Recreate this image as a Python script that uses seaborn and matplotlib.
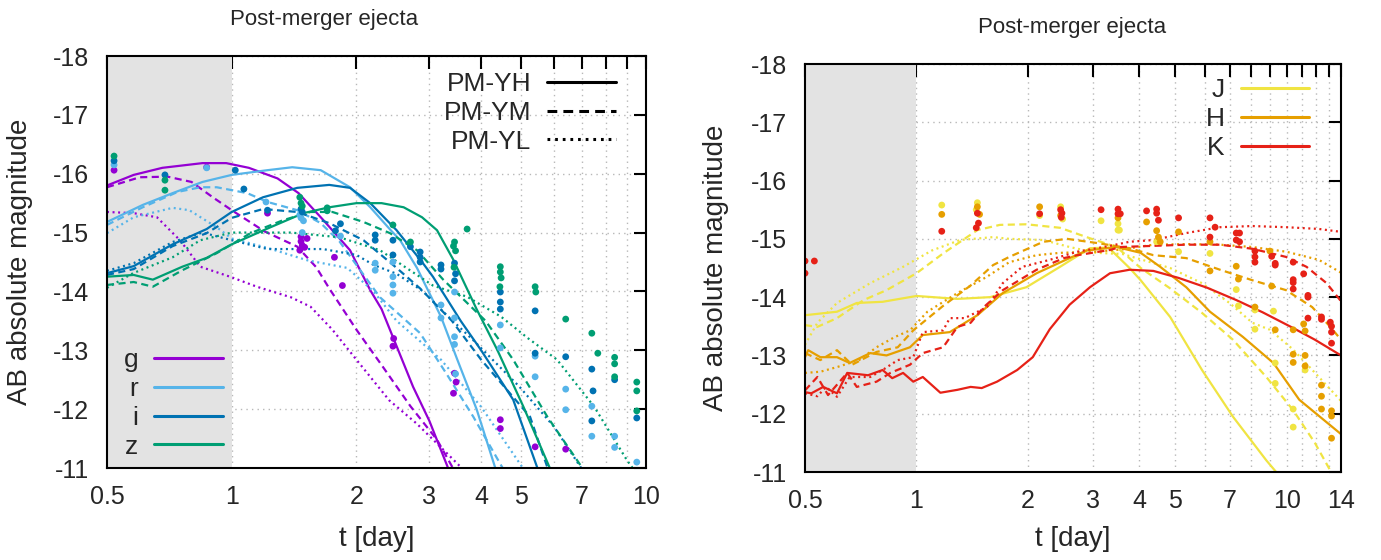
import numpy as np
import pandas as pd
import matplotlib
matplotlib.use("Agg")
import matplotlib.pyplot as plt
from matplotlib.lines import Line2D
from matplotlib.ticker import FixedLocator, FixedFormatter, NullLocator
import seaborn as sns

# ---------------- Left panel: optical bands (g, r, i, z) ----------------
g_YH_t = [0.5, 0.58, 0.68, 0.85, 0.97, 1.1, 1.29, 1.45, 1.66, 1.93, 2.16, 2.3, 2.74, 3.0, 3.35]
g_YH_m = [-15.8, -15.98, -16.1, -16.18, -16.18, -16.1, -15.92, -15.67, -15.22, -14.7, -14.02, -13.7, -12.38, -11.8, -10.95]
g_YM_t = [0.5, 0.6, 0.7, 0.8, 0.9, 1.0, 1.2, 1.44, 1.6, 1.72, 2.0, 2.3, 2.7, 3.13, 3.45]
g_YM_m = [-15.77, -15.94, -15.95, -15.86, -15.6, -15.38, -15.02, -14.76, -14.41, -14.05, -13.35, -12.75, -12.05, -11.48, -10.95]
g_YL_t = [0.5, 0.58, 0.66, 0.75, 0.84, 1.0, 1.15, 1.39, 1.55, 1.75, 2.0, 2.4, 2.8, 3.2, 3.65]
g_YL_m = [-15.35, -15.33, -15.26, -14.87, -14.42, -14.24, -14.08, -13.9, -13.74, -13.35, -12.84, -12.15, -11.75, -11.35, -10.95]

r_YH_t = [0.5, 0.61, 0.72, 0.85, 1.0, 1.22, 1.4, 1.64, 1.93, 2.16, 2.42, 2.55, 2.8, 3.2, 3.5, 3.9, 4.35]
r_YH_m = [-15.18, -15.47, -15.67, -15.86, -15.98, -16.06, -16.11, -16.06, -15.77, -15.43, -15.04, -14.87, -14.4, -13.57, -12.85, -12.0, -10.95]
r_YM_t = [0.5, 0.61, 0.74, 0.84, 0.92, 1.09, 1.22, 1.44, 1.64, 1.82, 2.0, 2.28, 2.85, 3.3, 3.83, 4.55]
r_YM_m = [-15.13, -15.43, -15.69, -15.77, -15.77, -15.67, -15.52, -15.38, -15.16, -14.85, -14.45, -13.9, -13.29, -12.6, -11.87, -10.95]
r_YL_t = [0.5, 0.58, 0.72, 0.79, 0.92, 1.0, 1.22, 1.52, 1.9, 2.2, 2.5, 2.8, 3.2, 4.0, 5.1]
r_YL_m = [-14.99, -15.26, -15.42, -15.38, -15.09, -14.9, -14.74, -14.53, -14.4, -14.0, -13.5, -13.2, -12.84, -12.04, -10.95]

i_YH_t = [0.5, 0.58, 0.72, 0.87, 1.0, 1.19, 1.44, 1.72, 1.93, 2.16, 2.5, 2.88, 3.06, 3.57, 4.0, 4.78, 5.5]
i_YH_m = [-14.31, -14.43, -14.8, -15.06, -15.35, -15.6, -15.76, -15.81, -15.76, -15.5, -15.04, -14.5, -14.25, -13.5, -13.0, -12.16, -10.95]
i_YM_t = [0.5, 0.58, 0.72, 0.87, 1.0, 1.19, 1.44, 1.72, 2.08, 2.5, 2.85, 3.4, 4.0, 5.25, 5.82]
i_YM_m = [-14.28, -14.38, -14.77, -14.99, -15.25, -15.4, -15.35, -15.16, -14.87, -14.4, -14.05, -13.5, -12.84, -11.87, -10.95]
i_YL_t = [0.5, 0.58, 0.72, 0.85, 1.0, 1.22, 1.66, 2.0, 2.2, 2.5, 2.9, 3.3, 3.83, 4.95, 6.0, 7.05]
i_YL_m = [-14.35, -14.48, -14.84, -15.0, -14.87, -14.72, -14.72, -14.62, -14.45, -14.3, -14.0, -13.6, -13.17, -12.38, -11.7, -10.95]

z_YH_t = [0.5, 0.58, 0.645, 0.76, 0.87, 1.0, 1.24, 1.49, 1.72, 2.0, 2.3, 2.6, 2.88, 3.13, 3.42, 3.9, 4.38, 5.06, 5.9]
z_YH_m = [-14.25, -14.28, -14.2, -14.42, -14.57, -14.8, -15.09, -15.33, -15.43, -15.5, -15.5, -15.43, -15.26, -15.04, -14.55, -13.7, -13.0, -12.04, -10.95]
z_YM_t = [0.5, 0.58, 0.645, 0.76, 0.92, 1.11, 1.33, 1.55, 1.75, 2.08, 2.41, 2.8, 3.24, 4.1, 4.78, 5.78, 7.1]
z_YM_m = [-14.11, -14.16, -14.08, -14.36, -14.65, -14.99, -15.21, -15.35, -15.35, -15.18, -14.99, -14.7, -14.2, -13.5, -12.84, -11.87, -10.95]
z_YL_t = [0.5, 0.578, 0.72, 0.84, 1.0, 1.39, 1.82, 2.28, 2.64, 3.06, 3.7, 4.47, 5.2, 6.1, 7.5, 9.0, 9.4]
z_YL_m = [-14.06, -14.31, -14.58, -14.87, -15.0, -15.0, -14.92, -14.7, -14.4, -14.1, -13.91, -13.57, -13.2, -12.84, -12.04, -11.13, -10.95]

# observed points (left panel)
obs_g_t = [0.52, 0.87, 1.22, 1.47, 1.47, 1.48, 1.5, 1.46, 1.52, 1.77, 1.85, 2.46, 2.45, 3.45, 3.48, 3.43, 4.45, 4.45, 5.4, 6.4]
obs_g_m = [-16.06, -16.11, -15.33, -14.93, -14.85, -14.78, -14.75, -14.7, -14.9, -14.58, -14.1, -13.2, -13.07, -12.61, -12.46, -12.27, -11.82, -11.67, -11.36, -11.32]
obs_r_t = [0.52, 0.87, 1.21, 1.46, 1.47, 1.49, 1.48, 1.83, 2.22, 2.22, 2.45, 2.45, 2.45, 2.45, 3.2, 3.2, 3.45, 3.45, 3.45, 3.45, 3.47, 4.45, 4.45, 5.4, 5.4, 6.4, 6.4, 7.4, 7.4, 8.4, 8.4, 9.5]
obs_r_m = [-16.15, -16.1, -15.52, -15.3, -15.25, -15.2, -15.0, -14.94, -14.48, -14.36, -14.5, -14.25, -14.11, -13.97, -13.77, -13.55, -13.99, -13.55, -13.23, -13.1, -12.6, -13.43, -13.04, -12.9, -12.55, -12.34, -11.99, -12.05, -11.54, -11.54, -11.35, -11.1]
obs_i_t = [0.52, 0.69, 1.02, 1.07, 1.22, 1.47, 1.48, 1.83, 1.78, 2.22, 2.22, 2.45, 2.45, 2.7, 2.85, 2.85, 2.85, 3.2, 3.2, 3.45, 3.47, 3.45, 4.45, 4.45, 4.45, 5.4, 5.4, 6.4, 7.4, 7.45, 7.4, 8.4, 9.5]
obs_i_m = [-16.22, -15.98, -16.06, -15.74, -15.38, -15.4, -15.35, -15.15, -15.03, -14.96, -14.87, -14.87, -14.62, -14.76, -14.67, -14.58, -14.5, -14.45, -14.38, -14.48, -14.3, -14.18, -13.99, -13.82, -13.7, -13.67, -12.95, -12.89, -12.68, -12.31, -11.8, -12.5, -11.85]
obs_z_t = [0.52, 0.69, 0.69, 1.46, 1.47, 1.48, 1.7, 1.7, 2.45, 2.7, 3.45, 3.43, 3.47, 3.44, 3.7, 4.45, 4.45, 4.47, 4.44, 5.4, 5.42, 6.4, 7.4, 7.65, 8.4, 8.4, 8.4, 9.5, 9.5, 9.5]
obs_z_m = [-16.3, -15.89, -15.72, -15.6, -15.5, -15.45, -15.42, -15.37, -15.13, -14.84, -14.84, -14.77, -14.69, -14.41, -15.06, -14.42, -14.33, -14.23, -14.08, -14.08, -13.99, -13.53, -13.29, -12.95, -12.88, -12.77, -12.55, -12.46, -12.31, -11.97]

# ---------------- Right panel: near-infrared bands (J, H, K) ----------------
J_YH_t = [0.5, 0.61, 0.69, 0.81, 1.0, 1.29, 1.58, 1.98, 2.44, 2.94, 3.3, 3.76, 4.03, 4.84, 5.9, 7.15, 8.8, 9.5]
J_YH_m = [-13.69, -13.75, -13.9, -13.92, -14.02, -13.97, -14.0, -14.17, -14.52, -14.84, -14.85, -14.5, -14.29, -13.66, -12.75, -11.95, -11.2, -10.95]
J_YM_t = [0.5, 0.54, 0.61, 0.72, 0.83, 1.0, 1.18, 1.46, 1.68, 1.98, 2.44, 2.94, 3.47, 4.03, 4.84, 5.9, 7.15, 8.8, 10.4, 11.9, 13.3]
J_YM_m = [-13.52, -13.49, -13.64, -13.95, -14.12, -14.41, -14.75, -15.15, -15.24, -15.25, -15.19, -15.01, -14.86, -14.5, -14.15, -13.73, -13.27, -12.63, -12.06, -11.5, -10.95]
J_YL_t = [0.5, 0.54, 0.61, 0.75, 0.92, 1.1, 1.31, 1.61, 1.78, 2.2, 2.59, 3.06, 3.6, 4.84, 5.9, 7.0, 8.07, 9.0, 10.4, 12.2, 14.0]
J_YL_m = [-13.18, -13.56, -13.9, -14.24, -14.52, -14.8, -14.98, -15.03, -15.0, -14.98, -14.86, -14.76, -14.74, -14.5, -14.24, -13.9, -13.56, -13.44, -13.1, -12.63, -12.22]

H_YH_t = [0.5, 0.51, 0.55, 0.61, 0.66, 0.75, 0.83, 0.96, 1.04, 1.23, 1.46, 1.71, 2.11, 2.59, 2.88, 3.47, 4.03, 4.55, 5.35, 6.2, 7.6, 9.2, 10.8, 14.0]
H_YH_m = [-12.97, -13.09, -12.97, -12.97, -12.87, -13.04, -13.0, -13.14, -13.35, -13.4, -13.69, -14.07, -14.41, -14.67, -14.8, -14.86, -14.76, -14.52, -14.17, -13.75, -13.32, -12.87, -12.24, -11.65]
H_YM_t = [0.5, 0.55, 0.61, 0.67, 0.78, 0.89, 0.98, 1.18, 1.4, 1.61, 1.78, 2.2, 2.55, 3.06, 3.76, 4.36, 5.35, 6.6, 8.07, 9.95, 11.7, 13.1, 14.0]
H_YM_m = [-13.04, -12.92, -13.09, -12.84, -13.06, -13.14, -13.43, -13.85, -14.2, -14.55, -14.69, -14.95, -15.0, -14.93, -14.84, -14.72, -14.67, -14.47, -14.29, -14.12, -13.83, -13.49, -13.27]
H_YL_t = [0.5, 0.55, 0.61, 0.7, 0.78, 0.87, 0.96, 1.07, 1.29, 1.55, 1.78, 2.11, 2.44, 3.06, 3.6, 4.36, 5.35, 6.6, 8.07, 9.95, 12.2, 14.0]
H_YL_m = [-12.7, -12.72, -12.8, -12.92, -13.14, -13.31, -13.43, -13.75, -14.07, -14.35, -14.6, -14.72, -14.76, -14.78, -14.82, -14.9, -14.91, -14.9, -14.86, -14.78, -14.64, -14.42]

K_YH_t = [0.5, 0.52, 0.56, 0.61, 0.65, 0.74, 0.81, 0.86, 0.92, 0.98, 1.04, 1.16, 1.29, 1.4, 1.5, 1.65, 1.87, 2.06, 2.29, 2.59, 2.94, 3.33, 3.76, 4.36, 5.1, 6.1, 7.3, 8.6, 10.4, 11.9, 14.0]
K_YH_m = [-12.37, -12.35, -12.46, -12.35, -12.7, -12.66, -12.75, -12.61, -12.7, -12.55, -12.63, -12.36, -12.41, -12.46, -12.44, -12.55, -12.75, -12.97, -13.45, -13.87, -14.17, -14.41, -14.47, -14.45, -14.33, -14.16, -13.95, -13.74, -13.47, -13.27, -13.0]
K_YM_t = [0.5, 0.54, 0.577, 0.65, 0.69, 0.78, 0.85, 0.96, 1.04, 1.18, 1.29, 1.4, 1.52, 1.71, 2.11, 2.5, 2.72, 3.33, 3.55, 4.36, 5.35, 6.6, 8.07, 9.95, 11.3, 12.8, 14.0]
K_YM_m = [-12.4, -12.63, -12.32, -12.7, -12.46, -12.55, -12.7, -12.84, -13.04, -13.14, -13.49, -13.56, -13.83, -14.12, -14.47, -14.67, -14.72, -14.81, -14.86, -14.88, -14.9, -14.9, -14.83, -14.69, -14.52, -14.24, -13.93]
K_YL_t = [0.5, 0.54, 0.57, 0.61, 0.66, 0.75, 0.81, 0.89, 0.98, 1.04, 1.18, 1.23, 1.35, 1.55, 1.71, 1.93, 2.29, 2.72, 3.33, 3.76, 4.36, 5.35, 6.6, 8.07, 9.95, 12.2, 14.0]
K_YL_m = [-12.35, -12.3, -12.46, -12.29, -12.63, -12.63, -12.75, -12.92, -12.97, -13.4, -13.43, -13.64, -13.64, -13.83, -14.24, -14.52, -14.64, -14.78, -14.88, -14.95, -14.98, -15.1, -15.2, -15.22, -15.2, -15.17, -15.12]

obs_J_t = [1.17, 1.46, 1.45, 2.15, 2.45, 2.48, 3.15, 3.5, 3.5, 3.53, 4.45, 5.1, 6.2, 7.3, 7.4, 8.2, 8.2, 9.2, 9.3, 9.3, 10.4, 10.4, 11.2]
obs_J_m = [-15.58, -15.62, -15.5, -15.4, -15.55, -15.34, -15.31, -15.26, -15.15, -15.15, -14.95, -14.78, -14.75, -14.13, -13.85, -13.78, -13.45, -13.76, -12.87, -12.52, -12.08, -11.77, -12.75]
obs_H_t = [1.17, 1.46, 1.48, 2.15, 2.45, 3.5, 4.18, 4.45, 4.5, 4.55, 5.1, 6.2, 6.2, 7.3, 7.4, 8.2, 9.0, 9.1, 9.3, 10.4, 10.4, 10.4, 11.1, 11.2, 11.2, 11.2, 12.4, 12.4, 12.4, 13.2, 13.2, 13.2]
obs_H_m = [-15.42, -15.55, -15.42, -15.55, -15.4, -15.36, -15.29, -15.14, -15.03, -14.95, -15.12, -14.95, -14.45, -14.53, -14.31, -13.83, -14.79, -14.19, -13.44, -13.44, -13.02, -12.88, -13.54, -13.42, -13.0, -12.82, -12.49, -12.3, -12.08, -12.05, -11.96, -11.58]
obs_K_t = [0.5, 0.5, 0.53, 1.17, 1.46, 1.47, 1.45, 2.15, 2.45, 2.47, 2.46, 3.15, 3.5, 3.5, 3.55, 4.18, 4.45, 4.45, 4.5, 5.1, 6.2, 6.4, 6.2, 7.3, 7.45, 7.3, 7.45, 8.2, 8.2, 8.2, 9.1, 9.3, 9.3, 10.4, 10.4, 10.4, 10.4, 11.1, 11.4, 11.4, 11.4, 12.4, 12.4, 13.1, 13.2, 13.2, 13.2]
obs_K_m = [-14.62, -14.41, -14.62, -15.13, -15.44, -15.27, -15.19, -15.43, -15.5, -15.44, -15.37, -15.5, -15.51, -15.43, -15.43, -15.48, -15.51, -15.44, -15.32, -15.36, -15.36, -15.2, -15.03, -15.1, -15.1, -14.98, -14.95, -14.79, -14.69, -14.6, -14.7, -14.58, -14.55, -14.6, -14.3, -14.25, -14.14, -14.4, -14.03, -14.0, -13.64, -13.66, -13.62, -13.57, -13.5, -13.4, -13.21]

models = ["PM-YH", "PM-YM", "PM-YL"]
left_bands = ["g", "r", "i", "z"]
right_bands = ["J", "H", "K"]
left_xticks = [0.5, 1, 2, 3, 4, 5, 6, 7, 8, 9, 10]
left_xlabels = ["0.5", "1", "2", "3", "4", "5", "", "7", "", "", "10"]
right_xticks = [0.5, 1, 2, 3, 4, 5, 6, 7, 8, 9, 10, 11, 12, 13, 14]
right_xlabels = ["0.5", "1", "2", "3", "4", "5", "", "7", "", "", "10", "", "", "", "14"]
yticks = [-18, -17, -16, -15, -14, -13, -12, -11]

palette = {"g": "#9400D3", "r": "#56B4E9", "i": "#0072B2", "z": "#009E73",
           "J": "#F0E442", "H": "#E69F00", "K": "#E62117"}
dash_map = {"PM-YH": "", "PM-YM": (3.2, 2.0), "PM-YL": (0.9, 1.6)}

G = globals()

def curves_df(bands):
    rows = []
    for b in bands:
        for m, suf in zip(models, ["YH", "YM", "YL"]):
            ts = G[f"{b}_{suf}_t"]
            ms = G[f"{b}_{suf}_m"]
            for t, v in zip(ts, ms):
                rows.append((t, v, b, m))
    return pd.DataFrame(rows, columns=["t", "mag", "band", "model"])

def obs_df(bands):
    rows = []
    for b in bands:
        for t, v in zip(G[f"obs_{b}_t"], G[f"obs_{b}_m"]):
            rows.append((t, v, b))
    return pd.DataFrame(rows, columns=["t", "mag", "band"])

sns.set_theme(style="white")
plt.rcParams["font.family"] = ["Liberation Sans", "DejaVu Sans"]

fig = plt.figure(figsize=(13.81, 5.6), dpi=100)
axL = fig.add_axes([107 / 1381, 1 - 468 / 560, 539 / 1381, 412 / 560])
axR = fig.add_axes([805 / 1381, 1 - 472 / 560, 536 / 1381, 408 / 560])


def style_axes(ax, xmax, xt, xl):
    ax.set_xscale("log")
    ax.set_xlim(0.5, xmax)
    ax.set_ylim(-11, -18)
    ax.set_axisbelow(True)
    ax.axvspan(0.5, 1.0, color="#e3e3e3", zorder=0.8, lw=0)
    ax.xaxis.set_major_locator(FixedLocator(xt))
    ax.xaxis.set_major_formatter(FixedFormatter(xl))
    ax.xaxis.set_minor_locator(NullLocator())
    ax.set_yticks(yticks)
    ax.set_yticklabels([str(v) for v in yticks])
    ax.tick_params(axis="both", which="major", direction="in", length=9, width=1.5,
                   top=True, right=True, labelsize=18, color="black")
    ax.tick_params(axis="x", pad=12)
    ax.tick_params(axis="y", pad=13)
    ax.grid(True, which="major", color="#b8b8b8", linestyle=(0, (1, 3)), linewidth=1.0)
    for sp in ax.spines.values():
        sp.set_color("black")
        sp.set_linewidth(1.5)
        sp.set_zorder(3)


style_axes(axL, 10, left_xticks, left_xlabels)
style_axes(axR, 14, right_xticks, right_xlabels)

for ax, bands in [(axL, left_bands), (axR, right_bands)]:
    sns.lineplot(data=curves_df(bands), x="t", y="mag", hue="band", style="model",
                 palette=palette, dashes=dash_map, hue_order=bands, style_order=models,
                 linewidth=1.6, estimator=None, sort=False, legend=False, ax=ax, zorder=2)
    sns.scatterplot(data=obs_df(bands), x="t", y="mag", hue="band", palette=palette,
                    hue_order=bands, s=24, linewidth=0, legend=False, ax=ax, zorder=2.2)
    ax.set_xlabel("t [day]", fontsize=20)
    ax.set_ylabel("AB absolute magnitude", fontsize=20)

axL.yaxis.set_label_coords(-0.137, 0.5)
axR.yaxis.set_label_coords(-0.142, 0.5)
axL.xaxis.set_label_coords(0.5, -0.141)
axR.xaxis.set_label_coords(0.5, -0.132)

# legends
leg_kw = dict(frameon=False, markerfirst=False, fontsize=19, handlelength=2.6,
              handletextpad=0.6, labelspacing=0.18, borderpad=0.2)
h_models = []
for d in dash_map.values():
    ln = Line2D([], [], color="black", lw=2.2)
    if d != "":
        ln.set_dashes(d)
    h_models.append(ln)
legM = axL.legend(h_models, models, loc="upper right", bbox_to_anchor=(0.978, 1.006), **leg_kw)
axL.add_artist(legM)
h_bandsL = [Line2D([], [], color=palette[b], lw=2.2) for b in left_bands]
axL.legend(h_bandsL, left_bands, loc="lower left", bbox_to_anchor=(-0.003, -0.022), **leg_kw)
h_bandsR = [Line2D([], [], color=palette[b], lw=2.2) for b in right_bands]
axR.legend(h_bandsR, right_bands, loc="upper right", bbox_to_anchor=(0.975, 1.01), **leg_kw)

fig.text(324 / 1381, 1 - 19 / 560, "Post-merger ejecta", ha="center", va="center", fontsize=16)
fig.text(1072 / 1381, 1 - 27 / 560, "Post-merger ejecta", ha="center", va="center", fontsize=16)

fig.savefig("out.png", dpi=100)
